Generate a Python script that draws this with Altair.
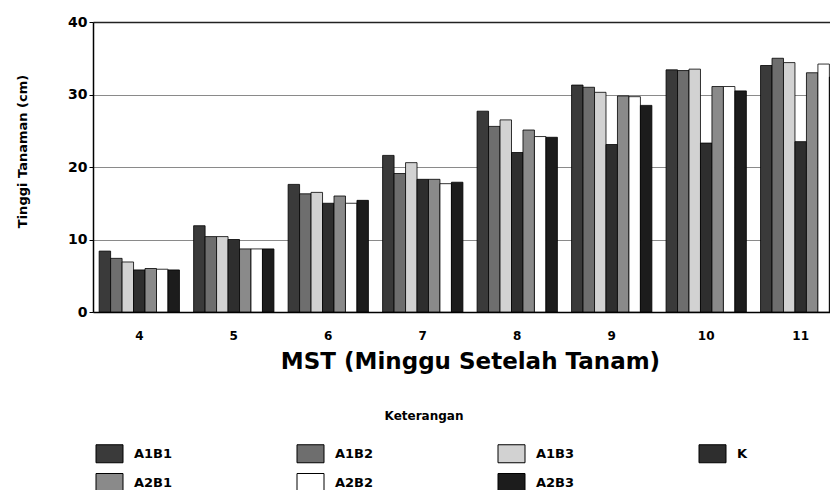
import altair as alt
import pandas as pd

weeks = ["4", "5", "6", "7", "8", "9", "10", "11"]
series = ["A1B1", "A1B2", "A1B3", "K", "A2B1", "A2B2", "A2B3"]

a1b1 = [8.4, 11.9, 17.6, 21.6, 27.7, 31.3, 33.4, 34.0]
a1b2 = [7.4, 10.4, 16.3, 19.1, 25.6, 31.0, 33.3, 35.0]
a1b3 = [6.9, 10.4, 16.5, 20.6, 26.5, 30.3, 33.5, 34.4]
k = [5.8, 10.0, 15.0, 18.3, 22.0, 23.1, 23.3, 23.5]
a2b1 = [6.0, 8.7, 16.0, 18.3, 25.1, 29.8, 31.1, 33.0]
a2b2 = [5.9, 8.7, 15.0, 17.7, 24.2, 29.7, 31.1, 34.2]
a2b3 = [5.8, 8.7, 15.4, 17.9, 24.1, 28.5, 30.5, 32.4]

colors = ["#3a3a3a", "#6e6e6e", "#d2d2d2", "#2e2e2e", "#8a8a8a", "#ffffff", "#1c1c1c"]

rows = []
for s, vals in zip(series, [a1b1, a1b2, a1b3, k, a2b1, a2b2, a2b3]):
    for w, v in zip(weeks, vals):
        rows.append({"MST": w, "Perlakuan": s, "Tinggi": v})
df = pd.DataFrame(rows)

font = "DejaVu Sans"

chart = alt.Chart(df).mark_bar(stroke="black", strokeWidth=0.8, clip=True).encode(
    x=alt.X(
        "MST:N", sort=weeks,
        scale=alt.Scale(range=[0, 754], paddingInner=0.15, paddingOuter=0.065),
        axis=alt.Axis(
            title="MST (Minggu Setelah Tanam)", labelAngle=0, ticks=False, labelPadding=18,
            labelFont=font, labelFontWeight="bold", labelFontSize=12, labelColor="black",
            titleFont=font, titleFontSize=23, titleFontWeight="bold", titleColor="black",
            titlePadding=9, domainColor="black", domainWidth=1.5, grid=False,
        ),
    ),
    xOffset=alt.XOffset("Perlakuan:N", sort=series, scale=alt.Scale(paddingInner=0, paddingOuter=0)),
    y=alt.Y(
        "Tinggi:Q", scale=alt.Scale(domain=[0, 40]),
        axis=alt.Axis(
            values=[0, 10, 20, 30, 40], title="Tinggi Tanaman (cm)",
            labelFont=font, labelFontWeight="bold", labelFontSize=14, labelColor="black",
            labelPadding=2, tickSize=4, tickColor="black", domainColor="black", domainWidth=1.5,
            titleFont=font, titleFontSize=13, titleFontWeight="bold", titleColor="black",
            titleX=-64, titleY=129,
            grid=True,
            gridColor={"condition": {"test": "datum.value === 40", "value": "#222222"}, "value": "#8a8a8a"},
            gridWidth={"condition": {"test": "datum.value === 40", "value": 1.6}, "value": 1},
        ),
    ),
    color=alt.Color(
        "Perlakuan:N", sort=series,
        scale=alt.Scale(domain=series, range=colors),
        legend=alt.Legend(
            title="Keterangan", orient="none", legendX=7, legendY=389, columns=4,
            direction="horizontal",
            symbolType="M-1.5,-1H1.5V1H-1.5Z", symbolSize=324,
            symbolStrokeColor="black", symbolStrokeWidth=1, symbolOpacity=1,
            labelFont=font, labelFontSize=13, labelFontWeight="bold", labelColor="black",
            labelOffset=15, columnPadding=122, rowPadding=6, gridAlign="all",
            titleFont=font, titleFontSize=12, titleFontWeight="bold", titleColor="black",
            titleAnchor="middle", titlePadding=21, padding=0,
        ),
    ),
).properties(
    width=737, height=290,
    padding={"left": 85, "top": 14, "right": 0, "bottom": 178},
    autosize=alt.AutoSizeParams(type="none"),
    background="white",
).configure_view(stroke=None)

chart.save("out.html", embed_options={"renderer": "svg", "actions": False})
